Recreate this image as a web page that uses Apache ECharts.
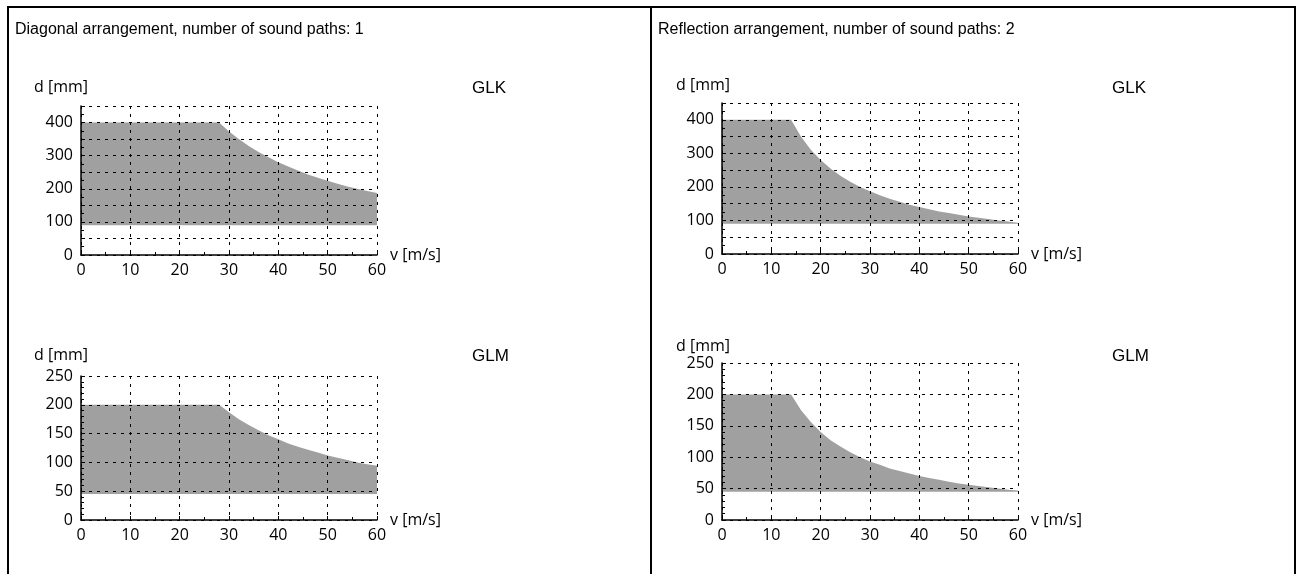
<!DOCTYPE html>
<html>
<head>
<meta charset="utf-8">
<script src="https://cdn.jsdelivr.net/npm/echarts@6/dist/echarts.min.js"></script>
<style>
html,body{margin:0;padding:0;background:#fff;}
#chart{width:1302px;height:574px;}
</style>
</head>
<body>
<div id="chart"></div>
<script>
// panel titles
var panelTitles = ['Diagonal arrangement, number of sound paths: 1', 'Reflection arrangement, number of sound paths: 2'];
var sensorNames = ['GLK', 'GLM'];
var xTicks = [0, 10, 20, 30, 40, 50, 60];

// d [mm] over v [m/s], upper limit of the grey area
var diagGlkUpper = [[0,400],[28,400],[30,373],[32,350],[34,329],[36,311],[38,295],[40,280],[42,267],[44,255],[46,243],[48,233],[50,224],[52,215],[54,207],[56,200],[58,193],[60,187]];
var diagGlkLower = [[0,90],[60,90]];
var diagGlmUpper = [[0,200],[28,200],[30,187],[32,175],[34,165],[36,156],[38,147],[40,140],[42,133],[44,127],[46,122],[48,117],[50,112],[52,108],[54,104],[56,100],[58,97],[60,94]];
var diagGlmLower = [[0,45],[60,45]];
var reflGlkUpper = [[0,400],[14,400],[16,350],[18,311],[20,280],[22,255],[24,233],[26,215],[28,200],[30,187],[32,175],[34,165],[36,156],[38,147],[40,140],[42,133],[44,127],[46,122],[48,117],[50,112],[52,108],[54,104],[56,100],[58,97],[60,93]];
var reflGlkLower = [[0,90],[60,90]];
var reflGlmUpper = [[0,200],[14,200],[16,175],[18,156],[20,140],[22,127],[24,117],[26,108],[28,100],[30,93],[32,88],[34,82],[36,78],[38,74],[40,70],[42,67],[44,64],[46,61],[48,58],[50,56],[52,54],[54,52],[56,50],[58,48],[60,47]];
var reflGlmLower = [[0,45],[60,45]];

var axisFont = 'Open Sans';
var grey = '#a0a0a0';

var grids = [
  {left:81, top:106, width:296, height:149},
  {left:81, top:376, width:296, height:144},
  {left:722, top:103, width:296, height:151},
  {left:722, top:363, width:296, height:157}
];
var sets = [
  {upper:diagGlkUpper, lower:diagGlkLower, ymax:450, labelStep:100, minor:2},
  {upper:diagGlmUpper, lower:diagGlmLower, ymax:250, labelStep:50, minor:5},
  {upper:reflGlkUpper, lower:reflGlkLower, ymax:450, labelStep:100, minor:2},
  {upper:reflGlmUpper, lower:reflGlmLower, ymax:250, labelStep:50, minor:5}
];

var dotted = {color:'#000', width:1, type:[3,5]};
var xAxes = [], yAxes = [], series = [];

sets.forEach(function(s, i){
  xAxes.push({
    gridIndex:i, type:'value', min:0, max:60, interval:10, z:3,
    name:'v [m/s]', nameLocation:'end', nameGap:3,
    nameTextStyle:{color:'#000', fontSize:16, fontFamily:axisFont, align:'left', verticalAlign:'middle', padding:[0,0,2,0]},
    axisLine:{lineStyle:{color:'#000', width:1.5}},
    axisTick:{inside:true, length:4, lineStyle:{color:'#000'}},
    minorTick:{show:true, splitNumber:2, length:3, lineStyle:{color:'#000'}},
    splitLine:{show:true, lineStyle:dotted},
    axisLabel:{color:'#000', fontSize:16, fontFamily:axisFont, margin:7,
      formatter:function(v){ return xTicks.indexOf(v) >= 0 ? String(v) : ''; }}
  });
  yAxes.push({
    gridIndex:i, type:'value', min:0, max:s.ymax, interval:50, z:3,
    axisLine:{lineStyle:{color:'#000', width:1.5}},
    axisTick:{inside:true, length:4, lineStyle:{color:'#000'}},
    minorTick:{show:true, splitNumber:s.minor, length:3, lineStyle:{color:'#000'}},
    splitLine:{show:true, lineStyle:dotted},
    axisLabel:{color:'#000', fontSize:16, fontFamily:axisFont, margin:8,
      formatter:function(v){ return v % s.labelStep === 0 ? String(v) : ''; }}
  });
  series.push({
    type:'line', xAxisIndex:i, yAxisIndex:i, data:s.upper, z:1,
    showSymbol:false, silent:true, lineStyle:{width:0, opacity:0},
    areaStyle:{color:grey, opacity:1}
  });
  // white under the lower limit
  series.push({
    type:'line', xAxisIndex:i, yAxisIndex:i, data:s.lower, z:2,
    showSymbol:false, silent:true, lineStyle:{width:0, opacity:0},
    areaStyle:{color:'#fff', opacity:1}
  });
});

var titleFont = {fill:'#000', fontSize:16, fontFamily:'Liberation Sans'};
var nameFont = {fill:'#000', fontSize:17, fontFamily:'Liberation Sans'};
var unitFont = {fill:'#000', fontSize:16, fontFamily:axisFont};
function txt(x, y, text, font){
  return {type:'text', x:x, y:y, style:Object.assign({text:text, verticalAlign:'middle'}, font)};
}
var graphics = [
  {type:'rect', shape:{x:8, y:7, width:1287, height:600}, style:{fill:'none', stroke:'#000', lineWidth:2}, z:10},
  {type:'line', shape:{x1:651, y1:7, x2:651, y2:574}, style:{stroke:'#000', lineWidth:2}, z:10},
  txt(15, 30, panelTitles[0], titleFont),
  txt(658, 30, panelTitles[1], titleFont),
  txt(472, 88, sensorNames[0], nameFont),
  txt(472, 356, sensorNames[1], nameFont),
  txt(1112, 88, sensorNames[0], nameFont),
  txt(1112, 356, sensorNames[1], nameFont),
  txt(34, 87, 'd [mm]', unitFont),
  txt(34, 355, 'd [mm]', unitFont),
  txt(676, 85, 'd [mm]', unitFont),
  txt(676, 346, 'd [mm]', unitFont)
];

var myChart = echarts.init(document.getElementById('chart'));
myChart.setOption({
  animation:false,
  grid:grids,
  xAxis:xAxes,
  yAxis:yAxes,
  series:series,
  graphic:graphics
});
</script>
</body>
</html>
